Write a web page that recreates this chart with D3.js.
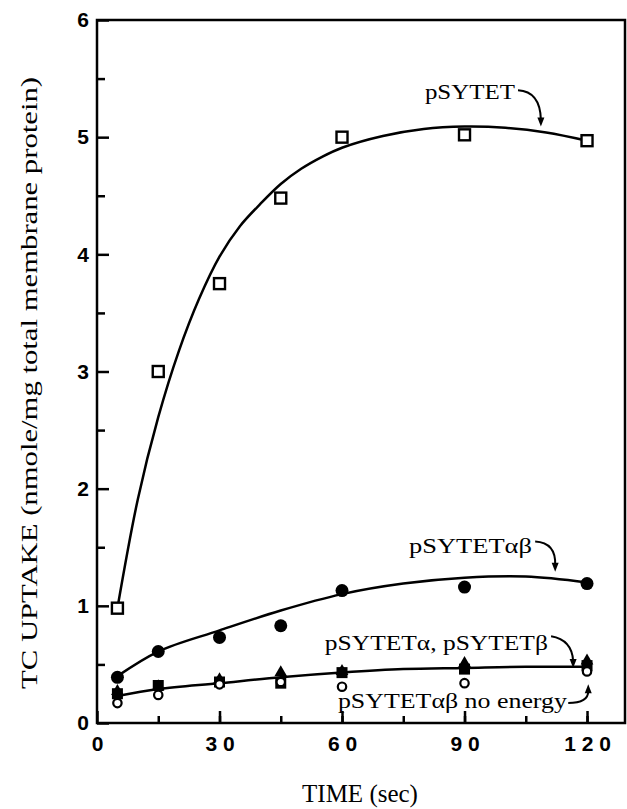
<!DOCTYPE html>
<html>
<head>
<meta charset="utf-8">
<script src="https://cdn.jsdelivr.net/npm/d3@7"></script>
<style>
  body { margin: 0; background: #fff; }
  svg { display: block; }
</style>
</head>
<body>
<svg id="chart"></svg>
<script>
var width = 627;
var height = 809;
var margin = {top: 20, right: 2, bottom: 86, left: 97};
var innerW = width - margin.left - margin.right;
var innerH = height - margin.top - margin.bottom;

// time points (sec)
var times = [5, 15, 30, 45, 60, 90, 120];

// measured uptake values
var pSYTET      = [0.98, 3.0, 3.75, 4.48, 5.0, 5.02, 4.97];
var pSYTETab    = [0.39, 0.61, 0.73, 0.83, 1.13, 1.16, 1.19];
var pSYTETa     = [0.25, 0.32, 0.35, 0.34, 0.43, 0.46, 0.49];
var pSYTETb     = [0.27, 0.31, 0.37, 0.43, 0.44, 0.51, 0.53];
var pSYTETabNoE = [0.17, 0.24, 0.33, 0.35, 0.31, 0.34, 0.44];

// fitted curves
var fitTopT = [5, 10, 15, 20, 25, 30, 35, 40, 45, 50, 55, 60, 70, 80, 90, 100, 110, 120];
var fitTopV = [0.98, 1.91, 2.61, 3.17, 3.62, 3.98, 4.24, 4.43, 4.60, 4.73, 4.83, 4.91, 5.01, 5.07, 5.09, 5.08, 5.04, 4.97];
var fitMidT = [5, 15, 30, 45, 60, 75, 90, 105, 120];
var fitMidV = [0.40, 0.61, 0.79, 0.96, 1.10, 1.19, 1.24, 1.25, 1.20];
var fitLowT = [5, 15, 30, 45, 60, 75, 90, 105, 120];
var fitLowV = [0.23, 0.29, 0.34, 0.39, 0.43, 0.46, 0.47, 0.48, 0.48];

var xTicks = [0, 30, 60, 90, 120];
var yTicks = [0, 1, 2, 3, 4, 5, 6];

// curve labels (text, position and arrow in data units)
var labels = [
  {text: 'pSYTET', t: 80.3, v: 5.33, len: 90, a: [103.1, 5.40, 108.5, 5.39, 108.7, 5.09], up: false},
  {text: 'pSYTETαβ', t: 76.4, v: 1.45, len: 123, a: [107.3, 1.55, 112.4, 1.54, 112.2, 1.29], up: false},
  {text: 'pSYTETα, pSYTETβ', t: 55.8, v: 0.62, len: 223, a: [111.2, 0.74, 116.3, 0.71, 116.6, 0.47], up: false},
  {text: 'pSYTETαβ no energy', t: 59.0, v: 0.13, len: 229, a: [115.4, 0.17, 120.3, 0.17, 120.3, 0.33], up: true}
];

var svg = d3.select('#chart')
  .attr('width', width)
  .attr('height', height);

var g = svg.append('g')
  .attr('transform', 'translate(' + margin.left + ',' + margin.top + ')');

var x = d3.scaleLinear().domain([0, 129.3]).range([0, innerW]);
var y = d3.scaleLinear().domain([0, 6]).range([innerH, 0]);

// frame
g.append('rect')
  .attr('width', innerW)
  .attr('height', innerH)
  .attr('fill', 'none')
  .attr('stroke', '#000')
  .attr('stroke-width', 2.5);

// ticks point inward
g.append('g')
  .attr('transform', 'translate(0,' + innerH + ')')
  .call(d3.axisBottom(x).tickValues(d3.range(15, 129, 15)).tickSize(-7).tickFormat(''))
  .call(function(a) { a.select('.domain').remove(); });
g.append('g')
  .attr('transform', 'translate(0,' + innerH + ')')
  .call(d3.axisBottom(x).tickValues(xTicks).tickSize(-12).tickPadding(13)
    .tickFormat(function(d) { return String(d).split('').join(' '); }))
  .call(function(a) { a.select('.domain').remove(); });

g.append('g')
  .call(d3.axisLeft(y).tickValues(d3.range(0.5, 6, 1)).tickSize(-8).tickFormat(''))
  .call(function(a) { a.select('.domain').remove(); });
g.append('g')
  .call(d3.axisLeft(y).tickValues(yTicks).tickSize(-12).tickPadding(8).tickFormat(d3.format('d')))
  .call(function(a) { a.select('.domain').remove(); });

g.selectAll('.tick line').attr('stroke', '#000').attr('stroke-width', 2.5);
g.selectAll('.tick text')
  .attr('font-family', '"Liberation Sans", Arial, sans-serif')
  .attr('font-weight', 'bold')
  .attr('font-size', 21)
  .attr('fill', '#000');

// axis titles
svg.append('text')
  .attr('x', 360)
  .attr('y', 802)
  .attr('text-anchor', 'middle')
  .attr('font-family', '"Liberation Serif", "Times New Roman", serif')
  .attr('font-size', 25)
  .text('TIME (sec)');

svg.append('text')
  .attr('transform', 'translate(37,383) rotate(-90)')
  .attr('text-anchor', 'middle')
  .attr('font-family', '"Liberation Serif", "Times New Roman", serif')
  .attr('font-size', 23)
  .attr('textLength', 612)
  .attr('lengthAdjust', 'spacingAndGlyphs')
  .text('TC UPTAKE (nmole/mg total membrane protein)');

// fitted curves
var line = d3.line()
  .x(function(d) { return x(d[0]); })
  .y(function(d) { return y(d[1]); })
  .curve(d3.curveCatmullRom);

[[fitTopT, fitTopV], [fitMidT, fitMidV], [fitLowT, fitLowV]].forEach(function(f) {
  g.append('path')
    .datum(d3.zip(f[0], f[1]))
    .attr('d', line)
    .attr('fill', 'none')
    .attr('stroke', '#000')
    .attr('stroke-width', 2.5);
});

// markers
function pts(vals) { return d3.zip(times, vals); }

g.selectAll('.sqa').data(pts(pSYTETa)).enter().append('rect')
  .attr('x', function(d) { return x(d[0]) - 5.5; })
  .attr('y', function(d) { return y(d[1]) - 5.5; })
  .attr('width', 11).attr('height', 11)
  .attr('fill', '#000');

var tri = d3.symbol().type(d3.symbolTriangle).size(70);
g.selectAll('.trib').data(pts(pSYTETb)).enter().append('path')
  .attr('d', tri)
  .attr('transform', function(d) { return 'translate(' + x(d[0]) + ',' + y(d[1]) + ')'; })
  .attr('fill', '#000');

g.selectAll('.cno').data(pts(pSYTETabNoE)).enter().append('circle')
  .attr('cx', function(d) { return x(d[0]); })
  .attr('cy', function(d) { return y(d[1]); })
  .attr('r', 4.2)
  .attr('fill', '#fff')
  .attr('stroke', '#000')
  .attr('stroke-width', 2.2);

g.selectAll('.cab').data(pts(pSYTETab)).enter().append('circle')
  .attr('cx', function(d) { return x(d[0]); })
  .attr('cy', function(d) { return y(d[1]); })
  .attr('r', 6.5)
  .attr('fill', '#000');

g.selectAll('.sq').data(pts(pSYTET)).enter().append('rect')
  .attr('x', function(d) { return x(d[0]) - 5.5; })
  .attr('y', function(d) { return y(d[1]) - 5.5; })
  .attr('width', 11).attr('height', 11)
  .attr('fill', '#fff')
  .attr('stroke', '#000')
  .attr('stroke-width', 2.4);

// labels with arrows
labels.forEach(function(l) {
  g.append('text')
    .attr('x', x(l.t))
    .attr('y', y(l.v))
    .attr('font-family', '"Liberation Serif", "Times New Roman", serif')
    .attr('font-size', 22)
    .attr('textLength', l.len)
    .attr('lengthAdjust', 'spacingAndGlyphs')
    .text(l.text);

  var a = l.a;
  var x0 = x(a[0]), y0 = y(a[1]), cx = x(a[2]), cy = y(a[3]), x1 = x(a[4]), y1 = y(a[5]);
  var dir = l.up ? -1 : 1;
  g.append('path')
    .attr('d', 'M' + x0 + ',' + y0 + ' Q' + cx + ',' + cy + ' ' + x1 + ',' + (y1 - dir * 7))
    .attr('fill', 'none')
    .attr('stroke', '#000')
    .attr('stroke-width', 2);
  g.append('path')
    .attr('d', 'M' + (x1 - 3.5) + ',' + (y1 - dir * 9) + ' L' + (x1 + 3.5) + ',' + (y1 - dir * 9) + ' L' + x1 + ',' + y1 + 'Z')
    .attr('fill', '#000');
});
</script>
</body>
</html>
